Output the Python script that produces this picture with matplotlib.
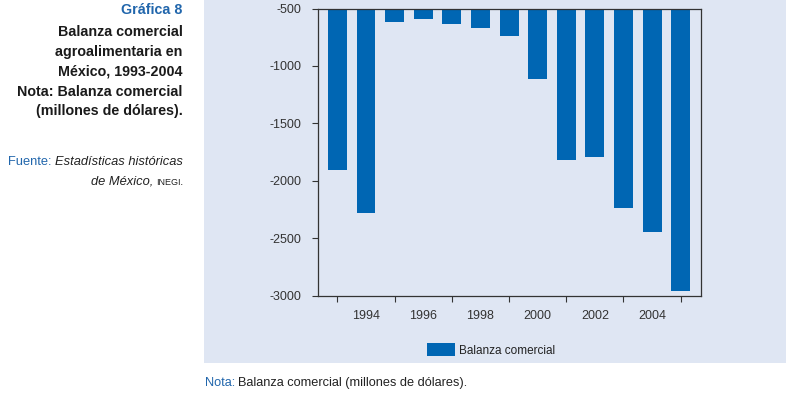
import matplotlib
matplotlib.use("Agg")
import matplotlib.pyplot as plt
from matplotlib.patches import Rectangle

plt.rcParams['font.family'] = ['Liberation Sans', 'DejaVu Sans']

# datos (millones de dolares)
years = [1993, 1994, 1995, 1996, 1997, 1998, 1999, 2000, 2001, 2002, 2003, 2004, 2005]
balanza = [-1910, -2280, -616, -592, -636, -671, -738, -1118, -1822, -1795, -2237, -2445, -2958]
tick_years = [1993, 1995, 1997, 1999, 2001, 2003, 2005]
label_years = [1994, 1996, 1998, 2000, 2002, 2004]
yticks = [-500, -1000, -1500, -2000, -2500, -3000]

bar_blue = '#0066b3'
text_blue = '#2166ac'
panel = '#dfe6f3'
W, H = 786, 394

fig = plt.figure(figsize=(W / 100, H / 100), dpi=100)
fig.patch.set_facecolor('white')

# fondo azul claro del panel
fig.patches.append(Rectangle((204 / W, 1 - 363 / H), 1 - 204 / W, 363 / H,
                             transform=fig.transFigure, facecolor=panel,
                             edgecolor='none', zorder=-5))

ax = fig.add_axes([317.7 / W, 1 - 295.5 / H, (701.3 - 317.7) / W, (295.5 - 8.5) / H])
ax.set_zorder(2)
ax.set_facecolor('none')
ax.bar(years, balanza, width=0.66, color=bar_blue, label='Balanza comercial', zorder=2)
ax.set_xlim(1992.31, 2005.72)
ax.set_ylim(-3000, -500)
ax.set_yticks(yticks)
ax.set_yticklabels([str(v) for v in yticks])

ax.set_xticks(tick_years)
ax.set_xticklabels([''] * len(tick_years))
ax.set_xticks(label_years, minor=True)
ax.set_xticklabels([str(y) for y in label_years], minor=True)
ax.tick_params(axis='x', which='major', length=6 * 0.72, width=0.8, color='#333333')
ax.tick_params(axis='x', which='minor', length=0, pad=10.5, labelsize=9, labelcolor='#333333')
ax.tick_params(axis='y', length=6 * 0.72, width=0.8, pad=7.4, labelsize=9,
               color='#333333', labelcolor='#333333')
for s in ax.spines.values():
    s.set_color('#333333')
    s.set_linewidth(0.9)

fig.legend(loc='center left', bbox_to_anchor=(427 / W, 1 - 350 / H), frameon=False,
           borderaxespad=0, borderpad=0, handlelength=2.4, handleheight=1.2,
           handletextpad=0.35, fontsize=8.5, labelcolor='#222222')

# bloque de texto a la izquierda
xr = 182.7 / W
fig.text(xr, 1 - 14 / H, 'Gráfica 8', ha='right', va='baseline', fontsize=10.3,
         fontweight='bold', color=text_blue)
lines = ['Balanza comercial', 'agroalimentaria en', 'México, 1993-2004',
         'Nota: Balanza comercial', '(millones de dólares).']
bases = [36.5, 56, 76, 95.7, 115]
for txt, b in zip(lines, bases):
    fig.text(xr, 1 - b / H, txt, ha='right', va='baseline', fontsize=10.3,
             fontweight='bold', color='#1a1a1a')

renderer = fig.canvas.get_renderer()
t1 = fig.text(xr, 1 - 165 / H, 'Estadísticas históricas', ha='right', va='baseline',
              fontsize=9.3, style='italic', color='#222222')
x0 = t1.get_window_extent(renderer).x0 / W
fig.text(x0 - 3 / W, 1 - 165 / H, 'Fuente:', ha='right', va='baseline',
         fontsize=9.3, color=text_blue)
t2 = fig.text(xr, 1 - 185 / H, 'INEGI.', ha='right', va='baseline',
              fontsize=6.5, color='#222222')
x0 = t2.get_window_extent(renderer).x0 / W
fig.text(x0 - 2 / W, 1 - 185 / H, 'de México,', ha='right', va='baseline',
         fontsize=9.3, style='italic', color='#222222')

# nota inferior
n1 = fig.text(205 / W, 1 - 386 / H, 'Nota:', ha='left', va='baseline',
              fontsize=9.2, color=text_blue)
x1 = n1.get_window_extent(renderer).x1 / W
fig.text(x1 + 3 / W, 1 - 386 / H, 'Balanza comercial (millones de dólares).',
         ha='left', va='baseline', fontsize=9.2, color='#222222')

fig.savefig('out.png', dpi=100)
